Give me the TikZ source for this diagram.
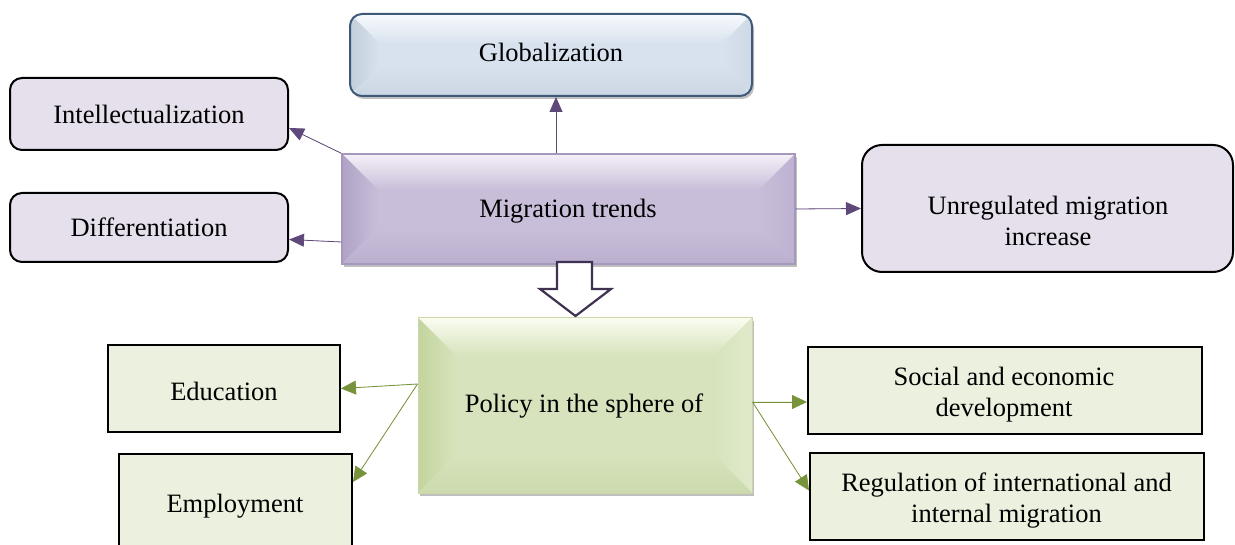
\documentclass[tikz,border=0pt]{standalone}
\usepackage{fontspec}
\setmainfont{Liberation Serif}
\usetikzlibrary{arrows.meta,shadows}
\definecolor{lav}{HTML}{E5E0EC}
\definecolor{lgreen}{HTML}{EBF1DE}
\definecolor{parrow}{HTML}{5F497A}
\definecolor{garrow}{HTML}{77933C}
\definecolor{globborder}{HTML}{3E5A78}
\definecolor{migborder}{HTML}{A597BE}
\definecolor{polborder}{HTML}{C9D8A8}
\definecolor{hollow}{HTML}{3F3151}
% bevel colours
\definecolor{gmain}{HTML}{D8E2EE}\definecolor{gtop}{HTML}{F7FAFD}\definecolor{gleft}{HTML}{C3CEDB}\definecolor{gright}{HTML}{CED9E6}\definecolor{gbot}{HTML}{CBD6E3}
\definecolor{mmain}{HTML}{C8BED9}\definecolor{mtop}{HTML}{F4F0F8}\definecolor{mleft}{HTML}{B0A2C6}\definecolor{mright}{HTML}{BDB1D1}\definecolor{mbot}{HTML}{BBAFCE}
\definecolor{pmain}{HTML}{D6E3BC}\definecolor{ptop}{HTML}{FAFCF0}\definecolor{pleft}{HTML}{C3D49E}\definecolor{pright}{HTML}{E0EACB}\definecolor{pbot}{HTML}{CCDAAE}
\tikzset{
  txt/.style={font={\fontsize{26.5}{31}\selectfont}, align=center, inner sep=0pt, anchor=base},
  roundbox/.style={draw=black, line width=2pt, fill=lav, rounded corners=12pt, inner sep=0pt},
  greenbox/.style={draw=black, line width=2pt, fill=lgreen, inner sep=0pt},
  shadowed/.style={drop shadow={shadow xshift=2pt, shadow yshift=-3pt, fill=black, opacity=0.25}},
  bevel/.style args={#1/#2/#3/#4/#5/#6}{fill=#1, inner sep=0pt,
    path picture={
      \coordinate (bvnw) at (path picture bounding box.north west);
      \coordinate (bvne) at (path picture bounding box.north east);
      \coordinate (bvsw) at (path picture bounding box.south west);
      \coordinate (bvse) at (path picture bounding box.south east);
      \coordinate (bvinw) at ([shift={(#6,-#6)}]bvnw);
      \coordinate (bvine) at ([shift={(-#6,-#6)}]bvne);
      \coordinate (bvisw) at ([shift={(#6,#6)}]bvsw);
      \coordinate (bvise) at ([shift={(-#6,#6)}]bvse);
      \fill[top color=#2, bottom color=#1] (bvnw) -- (bvne) -- (bvine) -- (bvinw) -- cycle;
      \fill[left color=#3, right color=#1] (bvnw) -- (bvinw) -- (bvisw) -- (bvsw) -- cycle;
      \fill[left color=#1, right color=#4] (bvne) -- (bvine) -- (bvise) -- (bvse) -- cycle;
      \fill[top color=#1, bottom color=#5] (bvsw) -- (bvisw) -- (bvise) -- (bvse) -- cycle;
    }},
  parr/.style={draw=parrow, line width=0.8pt, -{Triangle[length=15pt,width=13pt]}, fill=parrow},
  garr/.style={draw=garrow, line width=0.8pt, -{Triangle[length=15pt,width=14pt]}, fill=garrow},
}
\begin{document}
\begin{tikzpicture}[x=1pt,y=-1pt]
\useasboundingbox (0,0) rectangle (1235,545);

% top row boxes
\node[shadowed, draw=globborder, line width=2pt, rounded corners=12pt,
      bevel=gmain/gtop/gleft/gright/gbot/30pt,
      minimum width=402pt, minimum height=82pt] (glob) at (551,55) {};
\node[roundbox, minimum width=278pt, minimum height=72pt] (intel) at (149,114) {};
\node[roundbox, minimum width=278pt, minimum height=69pt] (diff) at (149,227.5) {};
\node[shadowed, draw=migborder, line width=1.5pt,
      bevel=mmain/mtop/mleft/mright/mbot/36pt,
      minimum width=453pt, minimum height=110pt] (mig) at (568.5,209) {};
\node[roundbox, rounded corners=20pt, minimum width=371pt, minimum height=127pt] (unreg) at (1047.5,208.5) {};

% bottom row boxes
\node[shadowed, draw=polborder, line width=1pt,
      bevel=pmain/ptop/pleft/pright/pbot/38pt,
      minimum width=334pt, minimum height=175pt] (pol) at (585,405.5) {};
\node[greenbox, minimum width=232pt, minimum height=87pt] (edu) at (224,388.5) {};
\node[greenbox, minimum width=233pt, minimum height=100pt] (emp) at (235.5,504) {};
\node[greenbox, minimum width=394pt, minimum height=87pt] (soc) at (1005,390.5) {};
\node[greenbox, minimum width=394pt, minimum height=87pt] (reg) at (1007,496.5) {};

% texts (anchored at the baseline of the last line)
\node[txt] (globt)  at (551,62) {Globalization};
\node[txt] (intelt) at (149,124) {Intellectualization};
\node[txt] (difft)  at (149,236.5) {Differentiation};
\node[txt] (migt)   at (568,218) {Migration trends};
\node[txt] (unregt) at (1048,246) {Unregulated migration\\increase};
\node[txt] (polt)   at (584,413) {Policy in the sphere of};
\node[txt] (edut)   at (224,400.5) {Education};
\node[txt] (empt)   at (235,512.5) {Employment};
\node[txt] (soct)   at (1004,416.5) {Social and economic\\development};
\node[txt] (regt)   at (1006.5,522) {Regulation of international and\\internal migration};

% hollow block arrow
\draw[hollow, line width=2.2pt, fill=white, line join=miter]
  (557,262) -- (592,262) -- (592,289) -- (611,289) -- (575.5,316) -- (540,289) -- (557,289) -- cycle;

% purple connectors
\draw[parr] (mig.north -| 556,0) -- (glob.south -| 556,0);
\draw[parr] (mig.north west) -- ([yshift=-14pt]intel.east);
\draw[parr] ([yshift=-33pt]mig.west) -- ([yshift=-12pt]diff.east);
\draw[parr] (mig.east) -- (unreg.west);

% green connectors
\draw[garr] ([yshift=21.5pt]pol.west) -- (edu.east);
\draw[garr] ([yshift=21.5pt]pol.west) -- ([yshift=22pt]emp.east);
\draw[garr] ([yshift=3.5pt]pol.east) -- ([yshift=-11.5pt]soc.west);
\draw[garr] ([yshift=3.5pt]pol.east) -- ([yshift=6pt]reg.west);
\end{tikzpicture}
\end{document}
